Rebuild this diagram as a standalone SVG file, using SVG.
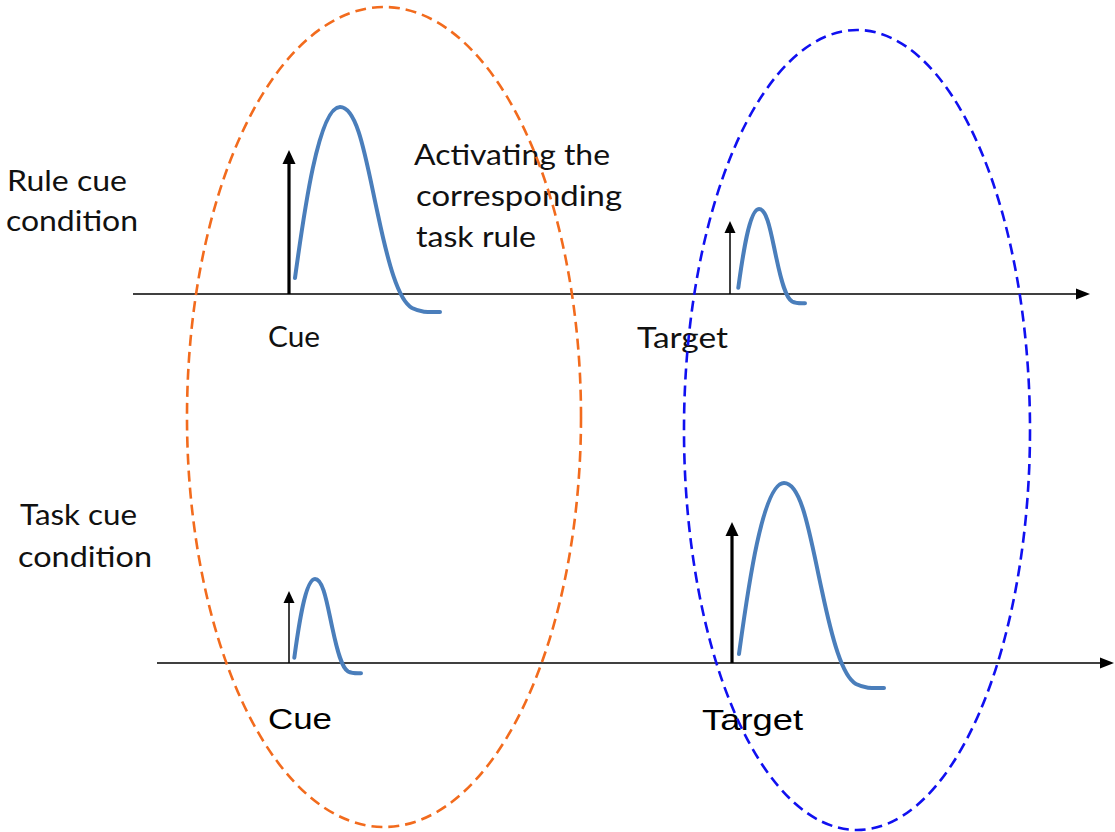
<svg xmlns="http://www.w3.org/2000/svg" width="1115" height="832" viewBox="0 0 1115 832">
<style>
.axis{stroke:#000;stroke-width:1.6;fill:none}
.wave{stroke:#4A7EBB;stroke-width:4;fill:none;stroke-linecap:round;stroke-linejoin:round}
.thick{stroke:#000;stroke-width:3.2}
.thin{stroke:#000;stroke-width:1.5}
.head{fill:#000}
.cal{font-family:Lato,"Liberation Sans",sans-serif;font-size:28px;fill:#111}
.ari{font-family:"Liberation Sans",Arial,sans-serif;font-size:29px;fill:#000}
.orange{fill:none;stroke:#F26B1D;stroke-width:2.6;stroke-dasharray:11 6}
.blue{fill:none;stroke:#1010F0;stroke-width:2.6;stroke-dasharray:11 6}
</style>
<rect width="1115" height="832" fill="#fff"/>
<g id="connectors">
<line class="axis" x1="133" y1="294" x2="1078" y2="294"/>
<polygon class="head" points="1090,294 1076,288.5 1076,299.5"/>
<line class="axis" x1="157" y1="663" x2="1102" y2="663"/>
<polygon class="head" points="1114,663 1100,657.5 1100,668.5"/>
</g>
<g id="rule-cue-label">
<text class="cal" x="7" y="191" textLength="120" lengthAdjust="spacingAndGlyphs">Rule cue</text>
<text class="cal" x="6" y="231" textLength="132" lengthAdjust="spacingAndGlyphs">condition</text>
</g>
<g id="task-cue-label">
<text class="cal" x="20" y="525" textLength="117" lengthAdjust="spacingAndGlyphs">Task cue</text>
<text class="cal" x="18" y="567" textLength="134" lengthAdjust="spacingAndGlyphs">condition</text>
</g>
<g id="annotation">
<text class="cal" x="414" y="165" textLength="196" lengthAdjust="spacingAndGlyphs">Activating the</text>
<text class="cal" x="416" y="206" textLength="206" lengthAdjust="spacingAndGlyphs">corresponding</text>
<text class="cal" x="416" y="247" textLength="120" lengthAdjust="spacingAndGlyphs">task rule</text>
</g>
<g id="rule-cue-event">
<line class="thick" x1="289" y1="294" x2="289" y2="162"/>
<polygon class="head" points="289,150 282.5,164 295.5,164"/>
<path class="wave" d="M295,278 C303,220 318,107 340,107 C358,107 366,160 378,215 C388,262 398,300 412,308 C422,313 430,312 440,312"/>
<text class="cal" x="268" y="347" textLength="52" lengthAdjust="spacingAndGlyphs">Cue</text>
</g>
<g id="rule-target-event">
<line class="thin" x1="730" y1="294" x2="730" y2="232"/>
<polygon class="head" points="730,221 724.5,233 735.5,233"/>
<path class="wave" d="M738.3,287.7 C742,261 748.9,209 759,209 C767.3,209 771,233.4 776.5,258.7 C781.1,280.3 785.7,297.8 792.1,301.5 C796.7,303.8 800.4,303.3 805,303.3"/>
<text class="cal" x="637" y="348" textLength="91" lengthAdjust="spacingAndGlyphs">Target</text>
</g>
<g id="task-cue-event">
<line class="thin" x1="289" y1="663" x2="289" y2="602"/>
<polygon class="head" points="289,591 283.5,603 294.5,603"/>
<path class="wave" d="M294.3,657.7 C298,631 304.9,579 315,579 C323.3,579 327,603.4 332.5,628.7 C337.1,650.3 341.7,667.8 348.1,671.5 C352.7,673.8 356.4,673.3 361,673.3"/>
<text class="ari" x="268" y="729" textLength="64" lengthAdjust="spacingAndGlyphs">Cue</text>
</g>
<g id="task-target-event">
<line class="thick" x1="732" y1="663" x2="732" y2="534"/>
<polygon class="head" points="732,522 725.5,536 738.5,536"/>
<path class="wave" d="M739,654 C747,596 762,483 784,483 C802,483 810,536 822,591 C832,638 842,676 856,684 C866,689 874,688 884,688"/>
<text class="ari" x="702" y="730" textLength="101" lengthAdjust="spacingAndGlyphs">Target</text>
</g>
<g id="cue-ellipse">
<ellipse class="orange" cx="384" cy="417" rx="197" ry="410"/>
</g>
<g id="target-ellipse">
<ellipse class="blue" cx="857" cy="430" rx="173" ry="400"/>
</g>
</svg>
